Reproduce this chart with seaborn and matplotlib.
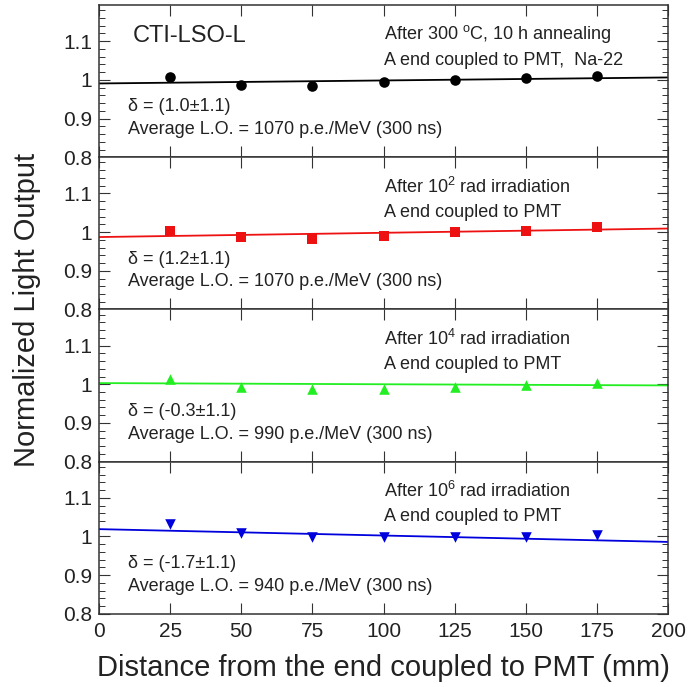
import numpy as np
import pandas as pd
import seaborn as sns
import matplotlib.pyplot as plt
from matplotlib.ticker import MultipleLocator

# distance from the coupled end (mm)
distance = [25, 50, 75, 100, 125, 150, 175]

# normalized light output
lo_anneal = [1.006, 0.986, 0.985, 0.993, 0.999, 1.004, 1.009]
lo_1e2 = [1.003, 0.986, 0.982, 0.990, 0.999, 1.003, 1.012]
lo_1e4 = [1.013, 0.994, 0.988, 0.989, 0.994, 0.999, 1.002]
lo_1e6 = [1.033, 1.010, 0.999, 0.999, 0.999, 0.999, 1.003]

# linear fit, value at x=0 and x=200
fit_x = [0, 200]
fit_anneal = [0.9905, 1.006]
fit_1e2 = [0.987, 1.009]
fit_1e4 = [1.003, 0.997]
fit_1e6 = [1.019, 0.986]

cond_line1 = [
    "After 300 $^{\\mathrm{o}}$C, 10 h annealing",
    "After 10$^{2}$ rad irradiation",
    "After 10$^{4}$ rad irradiation",
    "After 10$^{6}$ rad irradiation",
]
cond_line2 = [
    "A end coupled to PMT,  Na-22",
    "A end coupled to PMT",
    "A end coupled to PMT",
    "A end coupled to PMT",
]
delta_text = ["δ = (1.0±1.1)", "δ = (1.2±1.1)", "δ = (-0.3±1.1)", "δ = (-1.7±1.1)"]
avg_text = [
    "Average L.O. = 1070 p.e./MeV (300 ns)",
    "Average L.O. = 1070 p.e./MeV (300 ns)",
    "Average L.O. = 990 p.e./MeV (300 ns)",
    "Average L.O. = 940 p.e./MeV (300 ns)",
]

series = [lo_anneal, lo_1e2, lo_1e4, lo_1e6]
fits = [fit_anneal, fit_1e2, fit_1e4, fit_1e6]
colors = ["black", "#ee1111", "#22ee22", "#0000dd"]
markers = ["o", "s", "^", "v"]
txt_col = "#222222"

sns.set_theme(style="ticks")
plt.rcParams['font.family'] = ['Liberation Sans', 'DejaVu Sans']
plt.rcParams['mathtext.fontset'] = 'custom'
plt.rcParams['mathtext.rm'] = 'Liberation Sans'
plt.rcParams['mathtext.it'] = 'Liberation Sans:italic'

fig, axes = plt.subplots(4, 1, figsize=(6.99, 6.87), dpi=100, sharex=True)
fig.subplots_adjust(left=0.1416, right=0.9557, top=0.9927, bottom=0.1063, hspace=0)

for i, ax in enumerate(axes):
    df = pd.DataFrame({"x": distance, "y": series[i]})
    fdf = pd.DataFrame({"x": fit_x, "y": fits[i]})
    sns.lineplot(data=fdf, x="x", y="y", color=colors[i], lw=1.3, ax=ax)
    sns.scatterplot(data=df, x="x", y="y", color=colors[i], marker=markers[i],
                    s=58, edgecolor=colors[i], linewidth=0, ax=ax, zorder=3)
    ax.set_xlim(0, 200)
    ax.set_ylim(0.8, 1.193)
    ax.set_yticks([0.8, 0.9, 1.0, 1.1])
    ax.set_yticklabels(["0.8", "0.9", "1", "1.1"], fontsize=15, color=txt_col)
    ax.yaxis.set_minor_locator(MultipleLocator(0.02))
    ax.xaxis.set_major_locator(MultipleLocator(25))
    ax.tick_params(which="both", direction="in", top=True, right=True, color="#333333")
    ax.tick_params(which="major", length=8, width=0.8)
    ax.tick_params(which="minor", length=4, width=0.7)
    ax.tick_params(axis="y", pad=5)
    ax.set_xlabel("")
    ax.set_ylabel("")
    for sp in ax.spines.values():
        sp.set_linewidth(1.1)
        sp.set_color("#333333")

    ax.text(100, 1.117, cond_line1[i], fontsize=13, va="center", ha="left", color=txt_col)
    ax.text(100, 1.051, cond_line2[i], fontsize=13, va="center", ha="left", color=txt_col)
    ax.text(10.3, 0.930, delta_text[i], fontsize=13, va="center", ha="left", color=txt_col)
    ax.text(10.3, 0.871, avg_text[i], fontsize=13, va="center", ha="left", color=txt_col)

axes[0].text(12, 1.113, "CTI-LSO-L", fontsize=17, va="center", ha="left", color=txt_col)

axes[-1].set_xticks([0, 25, 50, 75, 100, 125, 150, 175, 200])
axes[-1].set_xticklabels(["0", "25", "50", "75", "100", "125", "150", "175", "200"],
                         fontsize=15, color=txt_col)
axes[-1].tick_params(axis="x", pad=6)
axes[-1].set_xlabel("Distance from the end coupled to PMT (mm)", fontsize=21, labelpad=9,
                    color=txt_col)
fig.text(0.039, 0.549, "Normalized Light Output", rotation=90, fontsize=21,
         va="center", ha="center", color=txt_col)

fig.savefig("out.png", dpi=100)
